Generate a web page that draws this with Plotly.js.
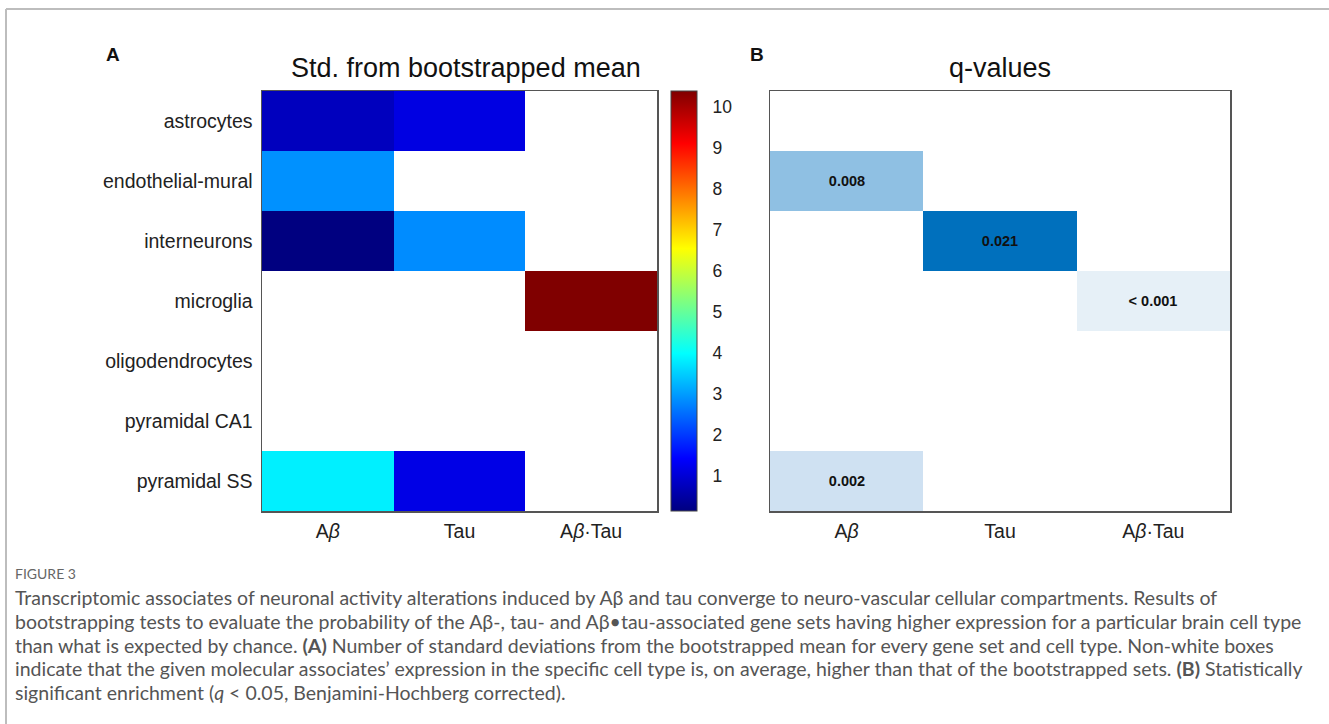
<!DOCTYPE html>
<html>
<head>
<meta charset="utf-8">
<script src="https://cdn.plot.ly/plotly-3.0.1.min.js"></script>
<style>html,body{margin:0;padding:0;background:#fff;}#chart{width:1329px;height:724px;}</style>
</head>
<body>
<div id="chart"></div>
<script>
// ---- data ----
const cellTypes = ["astrocytes", "endothelial-mural", "interneurons", "microglia", "oligodendrocytes", "pyramidal CA1", "pyramidal SS"];
const geneSets = ["A<i>β</i>", "Tau", "A<i>β</i>·Tau"];
// Std. from bootstrapped mean (null = not higher -> white)
const stdAbeta   = [0.76, 2.87, 0.13, null, null, null, 3.83];
const stdTau     = [1.12, null, 2.82, null, null, null, 1.16];
const stdAbTau   = [null, null, null, 10.4, null, null, null];
// q-values (significant only)
const qAbeta     = [null, 0.008, null, null, null, null, 0.002];
const qTau       = [null, null, 0.021, null, null, null, null];
const qAbTau     = [null, null, null, 0.001, null, null, null];
const qLabAbeta  = ["", "0.008", "", "", "", "", "0.002"];
const qLabTau    = ["", "", "0.021", "", "", "", ""];
const qLabAbTau  = ["", "", "", "< 0.001", "", "", ""];
const cbTicks    = [1, 2, 3, 4, 5, 6, 7, 8, 9, 10];

const zStd = cellTypes.map((c, i) => [stdAbeta[i], stdTau[i], stdAbTau[i]]);
const zQ   = cellTypes.map((c, i) => [qAbeta[i], qTau[i], qAbTau[i]]);
const tQ   = cellTypes.map((c, i) => [qLabAbeta[i], qLabTau[i], qLabAbTau[i]]);

const W = 1329, H = 724;
const px = v => v / W, py = v => 1 - v / H;

const jet = [[0, 'rgb(0,0,128)'], [0.125, 'rgb(0,0,255)'], [0.375, 'rgb(0,255,255)'],
             [0.625, 'rgb(255,255,0)'], [0.875, 'rgb(255,0,0)'], [1, 'rgb(128,0,0)']];
const blues = [[0, 'rgb(230,240,247)'], [0.05, 'rgb(207,225,242)'], [0.35, 'rgb(143,192,227)'], [1, 'rgb(0,112,189)']];

const FAM = 'Liberation Sans, Arial, sans-serif';
const tickFont = {family: FAM, size: 19.5, color: '#222'};

const traces = [
  {
    type: 'heatmap', x: geneSets, y: cellTypes, z: zStd,
    colorscale: jet, zmin: 0.13, zmax: 10.4, hoverinfo: 'skip',
    xaxis: 'x', yaxis: 'y',
    colorbar: {
      x: px(671), xanchor: 'left', xpad: 0,
      y: py(511), yanchor: 'bottom', ypad: 0,
      len: 420 / H, lenmode: 'fraction', thickness: 26, thicknessmode: 'pixels',
      outlinewidth: 1, outlinecolor: '#444',
      tickvals: cbTicks, ticks: 'outside', ticklen: 12, tickcolor: 'rgba(0,0,0,0)',
      tickfont: {family: FAM, size: 17.5, color: '#222'}
    }
  },
  {
    type: 'heatmap', x: geneSets, y: cellTypes, z: zQ, text: tQ,
    texttemplate: '<b>%{text}</b>',
    textfont: {family: FAM, size: 14.5, color: '#111'},
    colorscale: blues, zmin: 0.001, zmax: 0.021, showscale: false, hoverinfo: 'skip',
    xaxis: 'x2', yaxis: 'y2'
  }
];

const axBase = {
  showline: true, mirror: true, linecolor: '#555', linewidth: 1.5,
  showgrid: false, zeroline: false, ticks: '', tickfont: tickFont, fixedrange: true
};

const layout = {
  width: W, height: H,
  margin: {l: 0, r: 0, t: 0, b: 0},
  paper_bgcolor: '#fff', plot_bgcolor: '#fff',
  showlegend: false,
  xaxis: Object.assign({}, axBase, {domain: [px(262), px(657)], anchor: 'y', type: 'category', categoryarray: geneSets, ticklabelstandoff: 2}),
  yaxis: Object.assign({}, axBase, {domain: [py(511), py(91)], anchor: 'x', type: 'category', categoryarray: cellTypes, autorange: 'reversed', ticklabelstandoff: 4}),
  xaxis2: Object.assign({}, axBase, {domain: [px(770), px(1230)], anchor: 'y2', type: 'category', categoryarray: geneSets, ticklabelstandoff: 2}),
  yaxis2: Object.assign({}, axBase, {domain: [py(511), py(91)], anchor: 'x2', type: 'category', categoryarray: cellTypes, autorange: 'reversed', showticklabels: false}),
  shapes: [
    {type: 'line', xref: 'paper', yref: 'paper', x0: px(6), x1: 1, y0: py(9), y1: py(9), line: {color: '#bdbdbd', width: 2}},
    {type: 'line', xref: 'paper', yref: 'paper', x0: px(6), x1: px(6), y0: py(9), y1: 0, line: {color: '#bdbdbd', width: 2}}
  ],
  annotations: [
    {text: '<b>A</b>', x: px(113), y: py(55), xref: 'paper', yref: 'paper', showarrow: false, xanchor: 'center', yanchor: 'middle',
     font: {family: FAM, size: 19, color: '#111'}},
    {text: '<b>B</b>', x: px(757), y: py(55), xref: 'paper', yref: 'paper', showarrow: false, xanchor: 'center', yanchor: 'middle',
     font: {family: FAM, size: 19, color: '#111'}},
    {text: 'Std. from bootstrapped mean', x: px(466), y: py(68), xref: 'paper', yref: 'paper', showarrow: false, xanchor: 'center', yanchor: 'middle',
     font: {family: FAM, size: 27, color: '#111'}},
    {text: 'q-values', x: px(1000), y: py(68), xref: 'paper', yref: 'paper', showarrow: false, xanchor: 'center', yanchor: 'middle',
     font: {family: FAM, size: 27, color: '#111'}}
  ]
};

const capFont = {family: 'Lato, Noto Sans, sans-serif', size: 19.5, color: '#555'};
const capLines = [
  'Transcriptomic associates of neuronal activity alterations induced by Aβ and tau converge to neuro-vascular cellular compartments. Results of',
  'bootstrapping tests to evaluate the probability of the Aβ-, tau- and Aβ•tau-associated gene sets having higher expression for a particular brain cell type',
  'than what is expected by chance. <b>(A)</b> Number of standard deviations from the bootstrapped mean for every gene set and cell type. Non-white boxes',
  'indicate that the given molecular associates’ expression in the specific cell type is, on average, higher than that of the bootstrapped sets. <b>(B)</b> Statistically',
  'significant enrichment (<i>q</i> < 0.05, Benjamini-Hochberg corrected).'
];
const capY = [597, 621, 645, 668, 692];
layout.annotations.push({text: 'FIGURE 3', x: px(13), y: py(573), xref: 'paper', yref: 'paper', showarrow: false,
  xanchor: 'left', yanchor: 'middle', font: {family: 'Lato, Noto Sans, sans-serif', size: 14, color: '#666'}});
capLines.forEach((t, i) => layout.annotations.push({text: t, x: px(13), y: py(capY[i]), xref: 'paper', yref: 'paper',
  showarrow: false, xanchor: 'left', yanchor: 'middle', align: 'left', font: capFont}));

Plotly.newPlot('chart', traces, layout, {displayModeBar: false, staticPlot: true});
</script>
</body>
</html>
